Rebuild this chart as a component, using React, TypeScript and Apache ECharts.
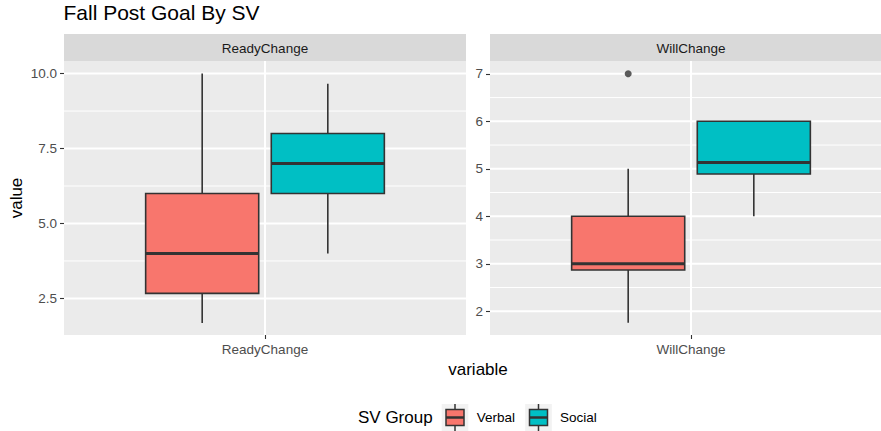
import React, { useEffect, useRef } from "react";
import * as echarts from "echarts";

// ---- data ----
const categories = ["ReadyChange", "WillChange"];
const groups = ["Verbal", "Social"];
const groupColors = ["#F8766D", "#00BFC4"];
// [lowerWhisker, q1, median, q3, upperWhisker] per category
const verbalStats = [
  [1.68, 2.67, 4.0, 6.0, 10.0],
  [1.76, 2.87, 3.0, 4.0, 5.0],
];
const socialStats = [
  [4.0, 6.0, 7.0, 8.0, 9.66],
  [4.0, 4.89, 5.13, 6.0, 6.0],
];
const verbalOutliers = [[], [7]];
const socialOutliers = [[], []];
const groupStats = [verbalStats, socialStats];
const groupOutliers = [verbalOutliers, socialOutliers];

// axis scales per panel
const yMins = [1.28, 1.5];
const yMaxs = [10.42, 7.27];
const majorTicks = [
  [2.5, 5.0, 7.5, 10.0],
  [2, 3, 4, 5, 6, 7],
];
const minorTicks = [
  [3.75, 6.25, 8.75],
  [2.5, 3.5, 4.5, 5.5, 6.5],
];
const tickDecimals = [1, 0];

// ---- layout ----
const FONT = '"Liberation Sans", Arial, Helvetica, sans-serif';
const W = 881;
const H = 431;
const panelLefts = [64, 490];
const panelTop = 61;
const panelW = 402; // full facet panel width (right one is cut by the image edge)
const panelH = 274;
const stripTop = 34;
const stripH = 27;
const dodge = 0.1875;
const boxHalf = 0.16875;
const xMin = 0.4;
const xSpan = 1.2;

export default function App() {
  const ref = useRef<HTMLDivElement>(null);

  useEffect(() => {
    if (!ref.current) return;
    const chart = echarts.init(ref.current, null, { renderer: "svg" });

    const visibleW = categories.map((_, i) => Math.min(panelW, W - panelLefts[i]));

    const grid = categories.map((_, i) => ({
      left: panelLefts[i],
      top: panelTop,
      width: visibleW[i],
      height: panelH,
      show: true,
      backgroundColor: "#EBEBEB",
      borderWidth: 0,
      containLabel: false,
    }));

    const xAxis = categories.map((c, i) => ({
      type: "value",
      gridIndex: i,
      min: xMin,
      max: xMin + (xSpan * visibleW[i]) / panelW,
      axisLine: { show: false },
      axisTick: {
        show: true,
        length: 4,
        customValues: [1],
        lineStyle: { color: "#333333", width: 1.1 },
      },
      axisLabel: {
        customValues: [1],
        formatter: () => c,
        color: "#4D4D4D",
        fontSize: 13.5,
        fontFamily: FONT,
        margin: 7,
      },
      splitLine: { show: false },
    }));

    const yAxis = categories.map((_, i) => ({
      type: "value",
      gridIndex: i,
      min: yMins[i],
      max: yMaxs[i],
      axisLine: { show: false },
      axisTick: {
        show: true,
        length: 4,
        customValues: majorTicks[i],
        lineStyle: { color: "#333333", width: 1.1 },
      },
      axisLabel: {
        customValues: majorTicks[i],
        formatter: (v: number) => v.toFixed(tickDecimals[i]),
        color: "#4D4D4D",
        fontSize: 13.5,
        fontFamily: FONT,
        margin: 7,
      },
      splitLine: { show: false },
    }));

    const series: any[] = [];

    // background grid lines per panel
    categories.forEach((_, i) => {
      series.push({
        type: "custom",
        xAxisIndex: i,
        yAxisIndex: i,
        silent: true,
        z: 1,
        data: [[1, majorTicks[i][0]]],
        renderItem: (params: any, api: any) => {
          const cs = params.coordSys;
          const children: any[] = [];
          minorTicks[i].forEach((v) => {
            const p = api.coord([1, v]);
            children.push({
              type: "line",
              shape: { x1: cs.x, y1: p[1], x2: cs.x + cs.width, y2: p[1] },
              style: { stroke: "#FFFFFF", lineWidth: 1 },
            });
          });
          majorTicks[i].forEach((v) => {
            const p = api.coord([1, v]);
            children.push({
              type: "line",
              shape: { x1: cs.x, y1: p[1], x2: cs.x + cs.width, y2: p[1] },
              style: { stroke: "#FFFFFF", lineWidth: 2 },
            });
          });
          const c = api.coord([1, yMins[i]]);
          children.push({
            type: "line",
            shape: { x1: c[0], y1: cs.y, x2: c[0], y2: cs.y + cs.height },
            style: { stroke: "#FFFFFF", lineWidth: 2 },
          });
          return { type: "group", children };
        },
      });
    });

    // boxes
    groups.forEach((g, gi) => {
      const xpos = 1 + (gi === 0 ? -dodge : dodge);
      categories.forEach((_, i) => {
        const s = groupStats[gi][i];
        series.push({
          type: "custom",
          name: g,
          xAxisIndex: i,
          yAxisIndex: i,
          z: 3,
          data: [[xpos, ...s]],
          renderItem: (params: any, api: any) => {
            const x = api.value(0);
            const lo = api.value(1);
            const q1 = api.value(2);
            const med = api.value(3);
            const q3 = api.value(4);
            const hi = api.value(5);
            const pLo = api.coord([x, lo]);
            const pHi = api.coord([x, hi]);
            const pQ1 = api.coord([x, q1]);
            const pQ3 = api.coord([x, q3]);
            const pMedL = api.coord([x - boxHalf, med]);
            const pMedR = api.coord([x + boxHalf, med]);
            const pL = api.coord([x - boxHalf, q3]);
            const pR = api.coord([x + boxHalf, q1]);
            const stroke = "#333333";
            return {
              type: "group",
              children: [
                {
                  type: "line",
                  shape: { x1: pHi[0], y1: pHi[1], x2: pQ3[0], y2: pQ3[1] },
                  style: { stroke, lineWidth: 1.6 },
                },
                {
                  type: "line",
                  shape: { x1: pQ1[0], y1: pQ1[1], x2: pLo[0], y2: pLo[1] },
                  style: { stroke, lineWidth: 1.6 },
                },
                {
                  type: "rect",
                  shape: {
                    x: pL[0],
                    y: pL[1],
                    width: pR[0] - pL[0],
                    height: pR[1] - pL[1],
                  },
                  style: { fill: groupColors[gi], stroke, lineWidth: 1.6 },
                },
                {
                  type: "line",
                  shape: { x1: pMedL[0], y1: pMedL[1], x2: pMedR[0], y2: pMedR[1] },
                  style: { stroke, lineWidth: 3 },
                },
              ],
            };
          },
        });
        const outs = groupOutliers[gi][i];
        if (outs.length) {
          series.push({
            type: "scatter",
            xAxisIndex: i,
            yAxisIndex: i,
            z: 4,
            symbol: "circle",
            symbolSize: 7,
            itemStyle: { color: "#333333" },
            data: outs.map((v) => [xpos, v]),
          });
        }
      });
    });

    // graphics: title, strips, axis titles, legend
    const graphic: any[] = [
      {
        type: "text",
        x: 63.5,
        y: 23,
        style: {
          text: "Fall Post Goal By SV",
          fill: "#000000",
          fontSize: 21,
          fontFamily: FONT,
          textAlign: "left",
          textVerticalAlign: "bottom",
        },
      },
    ];
    categories.forEach((c, i) => {
      graphic.push({
        type: "rect",
        shape: { x: panelLefts[i], y: stripTop, width: visibleW[i], height: stripH },
        style: { fill: "#D9D9D9" },
      });
      graphic.push({
        type: "text",
        x: panelLefts[i] + panelW / 2,
        y: stripTop + stripH / 2 + 0.5,
        style: {
          text: c,
          fill: "#1A1A1A",
          fontSize: 13.5,
          fontFamily: FONT,
          textAlign: "center",
          textVerticalAlign: "middle",
        },
      });
    });
    graphic.push({
      type: "text",
      x: 16,
      y: panelTop + panelH / 2,
      rotation: Math.PI / 2,
      style: {
        text: "value",
        fill: "#000000",
        fontSize: 17,
        fontFamily: FONT,
        textAlign: "center",
        textVerticalAlign: "middle",
      },
    });
    graphic.push({
      type: "text",
      x: 478,
      y: 369,
      style: {
        text: "variable",
        fill: "#000000",
        fontSize: 17,
        fontFamily: FONT,
        textAlign: "center",
        textVerticalAlign: "middle",
      },
    });
    // legend
    const legendY = 417.5;
    graphic.push({
      type: "text",
      x: 358,
      y: legendY,
      style: {
        text: "SV Group",
        fill: "#000000",
        fontSize: 17,
        fontFamily: FONT,
        textAlign: "left",
        textVerticalAlign: "middle",
      },
    });
    const keyXs = [441.7, 525.2];
    const labelXs = [476.7, 560];
    const keyW = 26.6;
    const keyH = 27;
    groups.forEach((g, gi) => {
      const kx = keyXs[gi];
      const ky = legendY - keyH / 2;
      const cx = kx + keyW / 2;
      graphic.push({
        type: "rect",
        shape: { x: kx, y: ky, width: keyW, height: keyH },
        style: { fill: "#F2F2F2" },
      });
      graphic.push({
        type: "line",
        shape: { x1: cx, y1: ky, x2: cx, y2: ky + 5.5 },
        style: { stroke: "#333333", lineWidth: 1.5 },
      });
      graphic.push({
        type: "line",
        shape: { x1: cx, y1: ky + keyH - 5.5, x2: cx, y2: ky + keyH },
        style: { stroke: "#333333", lineWidth: 1.5 },
      });
      graphic.push({
        type: "rect",
        shape: { x: kx + 4.3, y: ky + 5.5, width: keyW - 8.6, height: keyH - 11 },
        style: { fill: groupColors[gi], stroke: "#333333", lineWidth: 1.5 },
      });
      graphic.push({
        type: "line",
        shape: { x1: kx + 4.3, y1: legendY, x2: kx + keyW - 4.3, y2: legendY },
        style: { stroke: "#333333", lineWidth: 2.5 },
      });
      graphic.push({
        type: "text",
        x: labelXs[gi],
        y: legendY,
        style: {
          text: g,
          fill: "#000000",
          fontSize: 13.5,
          fontFamily: FONT,
          textAlign: "left",
          textVerticalAlign: "middle",
        },
      });
    });

    chart.setOption({
      animation: false,
      backgroundColor: "#FFFFFF",
      grid,
      xAxis,
      yAxis,
      series,
      graphic,
    });

    return () => chart.dispose();
  }, []);

  return (
    <div
      ref={ref}
      style={{ position: "absolute", left: 0, top: 0, width: W, height: H }}
    />
  );
}
